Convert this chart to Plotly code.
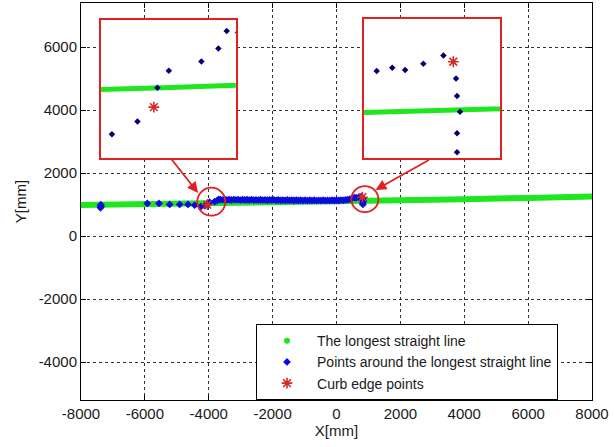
import plotly.graph_objects as go

# ---------------- data ----------------
green_x = [-8000, -6000, -4000, -2000, 0, 2000, 4000, 6000, 8000]
green_y = [990, 1015, 1040, 1070, 1100, 1135, 1170, 1215, 1260]

blue_far_x = [-7390, -7385, -7380, -7375, -5924, -5558, -5223, -4910, -4650, -4440]
blue_far_y = [900, 960, 1000, 935, 1038, 1038, 1006, 1006, 1006, 984]

blue_left_x = [-4247, -4124, -4028, -3973, -3816, -3734, -3694]
blue_left_y = [939, 967, 1040, 1077, 1097, 1125, 1163]

band_x = [-3640, -3570, -3500, -3430, -3360, -3290, -3220, -3150, -3080, -3010,
          -2940, -2870, -2800, -2730, -2660, -2590, -2520, -2450, -2380, -2310,
          -2240, -2170, -2100, -2030, -1960, -1890, -1820, -1750, -1680, -1610,
          -1540, -1470, -1400, -1330, -1260, -1190, -1120, -1050, -980, -910,
          -840, -770, -700, -630, -560, -490, -420, -350, -280, -210,
          -140, -70, 0, 70, 140, 210, 280, 350, 420]
band_y = [1160, 1150, 1165, 1150, 1160, 1148, 1162, 1150, 1158, 1146,
          1160, 1148, 1155, 1145, 1158, 1146, 1152, 1142, 1155, 1145,
          1150, 1140, 1152, 1142, 1150, 1138, 1148, 1138, 1146, 1136,
          1148, 1136, 1145, 1132, 1145, 1132, 1142, 1130, 1142, 1130,
          1140, 1128, 1140, 1130, 1138, 1128, 1140, 1130, 1138, 1128,
          1140, 1132, 1140, 1132, 1145, 1138, 1150, 1160, 1175]

blue_right_x = [501, 564, 616, 690, 771, 822, 826, 838, 826, 826]
blue_right_y = [1213, 1221, 1215, 1231, 1252, 1194, 1150, 1110, 1056, 1008]

curb_x = [-4045, 811]
curb_y = [998, 1236]

x_ticks = [-8000, -6000, -4000, -2000, 0, 2000, 4000, 6000, 8000]
y_ticks = [-4000, -2000, 0, 2000, 4000, 6000]

left_zoom_x = [-4300, -3650]
left_zoom_y = [887, 1187]
right_zoom_x = [450, 1000]
right_zoom_y = [993, 1343]

names = ["The longest straight line",
         "Points around the longest straight line",
         "Curb edge points"]

# ---------------- styles ----------------
GREEN = "#1fe61f"
BLUE_MAIN = "#0a0ae0"
BLUE_INSET = "#000070"
RED_STAR = "#d42a2a"
RED = "#e41f1f"
FONT = "Liberation Sans, Arial, sans-serif"

blue_x = blue_far_x + blue_left_x + band_x + blue_right_x
blue_y = blue_far_y + blue_left_y + band_y + blue_right_y

fig = go.Figure()

# legend-only entry for the green line
fig.add_trace(go.Scatter(x=[None], y=[None], mode="markers", name=names[0],
                         marker=dict(symbol="circle", size=6, color=GREEN)))

axes_sets = [("x", "y", 6, BLUE_MAIN, 6), ("x2", "y2", 5, BLUE_INSET, 5),
             ("x3", "y3", 5, BLUE_INSET, 5)]
for i, (xa, ya, lw, bcol, bsize) in enumerate(axes_sets):
    main = (i == 0)
    fig.add_trace(go.Scatter(x=green_x, y=green_y, mode="lines", xaxis=xa, yaxis=ya,
                             line=dict(color=GREEN, width=lw), showlegend=False,
                             hoverinfo="skip"))
    fig.add_trace(go.Scatter(x=blue_x, y=blue_y, mode="markers", xaxis=xa, yaxis=ya,
                             name=names[1], showlegend=main,
                             marker=dict(symbol="diamond", size=bsize, color=bcol,
                                         line=dict(width=0))))
    fig.add_trace(go.Scatter(x=curb_x, y=curb_y, mode="markers", xaxis=xa, yaxis=ya,
                             name=names[2], showlegend=main,
                             marker=dict(symbol="asterisk-open", size=9,
                                         line=dict(color=RED_STAR, width=1.6),
                                         color=RED_STAR)))

common_main = dict(showline=True, linecolor="black", linewidth=1, mirror="ticks",
                   ticks="inside", ticklen=5, tickcolor="black",
                   showgrid=True, gridcolor="#333333", griddash="dot", gridwidth=1,
                   zeroline=False, tickfont=dict(family=FONT, size=15, color="#1a1a1a"))

fig.update_layout(
    width=614, height=447,
    margin=dict(l=81, r=22, t=3, b=47),
    paper_bgcolor="white", plot_bgcolor="white",
    font=dict(family=FONT, color="#1a1a1a"),
    xaxis=dict(range=[-8000, 8000], tickvals=x_ticks,
               ticktext=[str(v) for v in x_ticks], domain=[0, 1],
               title=dict(text="X[mm]", font=dict(size=15), standoff=4),
               **common_main),
    yaxis=dict(range=[-5200, 7400], tickvals=y_ticks,
               ticktext=[str(v) for v in y_ticks], domain=[0, 1],
               title=dict(text="Y[mm]", font=dict(size=15), standoff=8),
               **common_main),
    legend=dict(x=0.3425, y=0.191, xanchor="left", yanchor="top",
                bordercolor="black", borderwidth=1, bgcolor="white",
                font=dict(family=FONT, size=14, color="#1a1a1a"),
                itemwidth=50, tracegroupgap=0),
)

inset_ax = dict(showline=True, linecolor=RED, linewidth=2, mirror=True, ticks="",
                showticklabels=False, showgrid=False, zeroline=False, fixedrange=True)
fig.update_layout(
    xaxis2=dict(range=left_zoom_x, domain=[0.039, 0.303], anchor="y2", **inset_ax),
    yaxis2=dict(range=left_zoom_y, domain=[0.609, 0.957], anchor="x2", **inset_ax),
    xaxis3=dict(range=right_zoom_x, domain=[0.554, 0.82], anchor="y3", **inset_ax),
    yaxis3=dict(range=right_zoom_y, domain=[0.609, 0.959], anchor="x3", **inset_ax),
)

# circles around the curb points (pixel-sized, anchored on the data)
circle_offsets = [(-10, 18, -11, 17), (-11, 16, -15, 11)]
for cx, cy, (a, b, c, d) in zip(curb_x, curb_y, circle_offsets):
    fig.add_shape(type="circle", xref="x", yref="y", xsizemode="pixel", ysizemode="pixel",
                  xanchor=cx, yanchor=cy, x0=a, x1=b, y0=c, y1=d,
                  line=dict(color=RED, width=1.8))

# arrows from insets to circles
arrow_tails = [(-37, -47), (68, -38)]
for cx, cy, (ax, ay) in zip(curb_x, curb_y, arrow_tails):
    fig.add_annotation(x=cx, y=cy, xref="x", yref="y", ax=ax, ay=ay,
                       axref="pixel", ayref="pixel", text="", showarrow=True,
                       arrowhead=2, arrowsize=1.2, arrowwidth=1.8, arrowcolor=RED,
                       standoff=15)

fig.write_html("out.html")
